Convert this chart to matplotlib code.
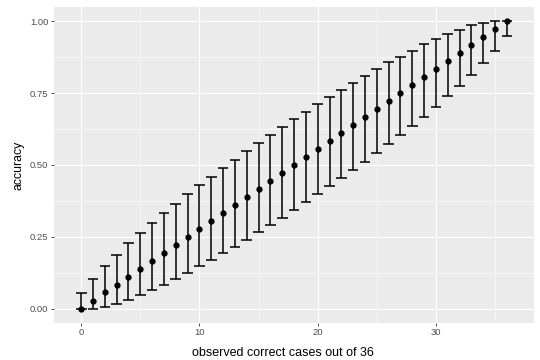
import matplotlib
matplotlib.use("Agg")
import matplotlib.pyplot as plt
from matplotlib.ticker import MultipleLocator, FormatStrFormatter

# Observed correct cases out of 36 and the observed accuracy
correct_cases = list(range(37))
accuracy = [0.000, 0.028, 0.056, 0.083, 0.111, 0.139, 0.167, 0.194, 0.222, 0.250,
            0.278, 0.306, 0.333, 0.361, 0.389, 0.417, 0.444, 0.472, 0.500, 0.528,
            0.556, 0.583, 0.611, 0.639, 0.667, 0.694, 0.722, 0.750, 0.778, 0.806,
            0.833, 0.861, 0.889, 0.917, 0.944, 0.972, 1.000]

# Interval ends
lower = [0.000, 0.000, 0.005, 0.016, 0.030, 0.046, 0.065, 0.083, 0.103, 0.124,
         0.147, 0.169, 0.192, 0.215, 0.240, 0.266, 0.290, 0.316, 0.342, 0.370,
         0.398, 0.425, 0.453, 0.482, 0.511, 0.541, 0.572, 0.603, 0.636, 0.668,
         0.703, 0.738, 0.775, 0.813, 0.854, 0.897, 0.949]
upper = [0.053, 0.104, 0.148, 0.188, 0.227, 0.262, 0.299, 0.333, 0.365, 0.398,
         0.430, 0.459, 0.489, 0.518, 0.548, 0.576, 0.605, 0.631, 0.659, 0.684,
         0.711, 0.736, 0.762, 0.786, 0.809, 0.832, 0.857, 0.877, 0.898, 0.919,
         0.938, 0.956, 0.971, 0.986, 0.995, 1.000, 1.000]

plt.rcParams['font.family'] = ['Liberation Sans', 'DejaVu Sans']

fig = plt.figure(figsize=(5.4, 3.6), dpi=100)
ax = fig.add_axes([0.100, 0.103, 0.889, 0.878])

# ggplot-like grey panel
ax.set_facecolor("#EBEBEB")
for side in ax.spines.values():
    side.set_visible(False)

ax.xaxis.set_major_locator(MultipleLocator(10))
ax.xaxis.set_minor_locator(MultipleLocator(5))
ax.yaxis.set_major_locator(MultipleLocator(0.25))
ax.yaxis.set_minor_locator(MultipleLocator(0.125))
ax.yaxis.set_major_formatter(FormatStrFormatter("%.2f"))
ax.grid(which="major", color="white", linewidth=0.8)
ax.grid(which="minor", color="white", linewidth=0.4)
ax.set_axisbelow(True)

ax.tick_params(which="major", length=2.2, width=0.6, color="#333333",
               labelsize=6.8, labelcolor="#4D4D4D", pad=1.8)
ax.tick_params(which="minor", length=0)

# error bars with caps in data units (width 0.9)
cap = 0.45
ax.vlines(correct_cases, lower, upper, color="black", linewidth=1.1, zorder=3)
ax.hlines(lower, [c - cap for c in correct_cases], [c + cap for c in correct_cases],
          color="black", linewidth=1.1, zorder=3)
ax.hlines(upper, [c - cap for c in correct_cases], [c + cap for c in correct_cases],
          color="black", linewidth=1.1, zorder=3)
ax.plot(correct_cases, accuracy, "o", color="black", markersize=3.5, zorder=4)

ax.set_xlim(-2.3, 38.3)
ax.set_ylim(-0.05, 1.05)

ax.set_xlabel("observed correct cases out of 36", fontsize=9, labelpad=3)
ax.xaxis.set_label_coords(0.477, -0.075)
ax.set_ylabel("accuracy", fontsize=8.8, labelpad=4)

fig.savefig("out.png", dpi=100)
